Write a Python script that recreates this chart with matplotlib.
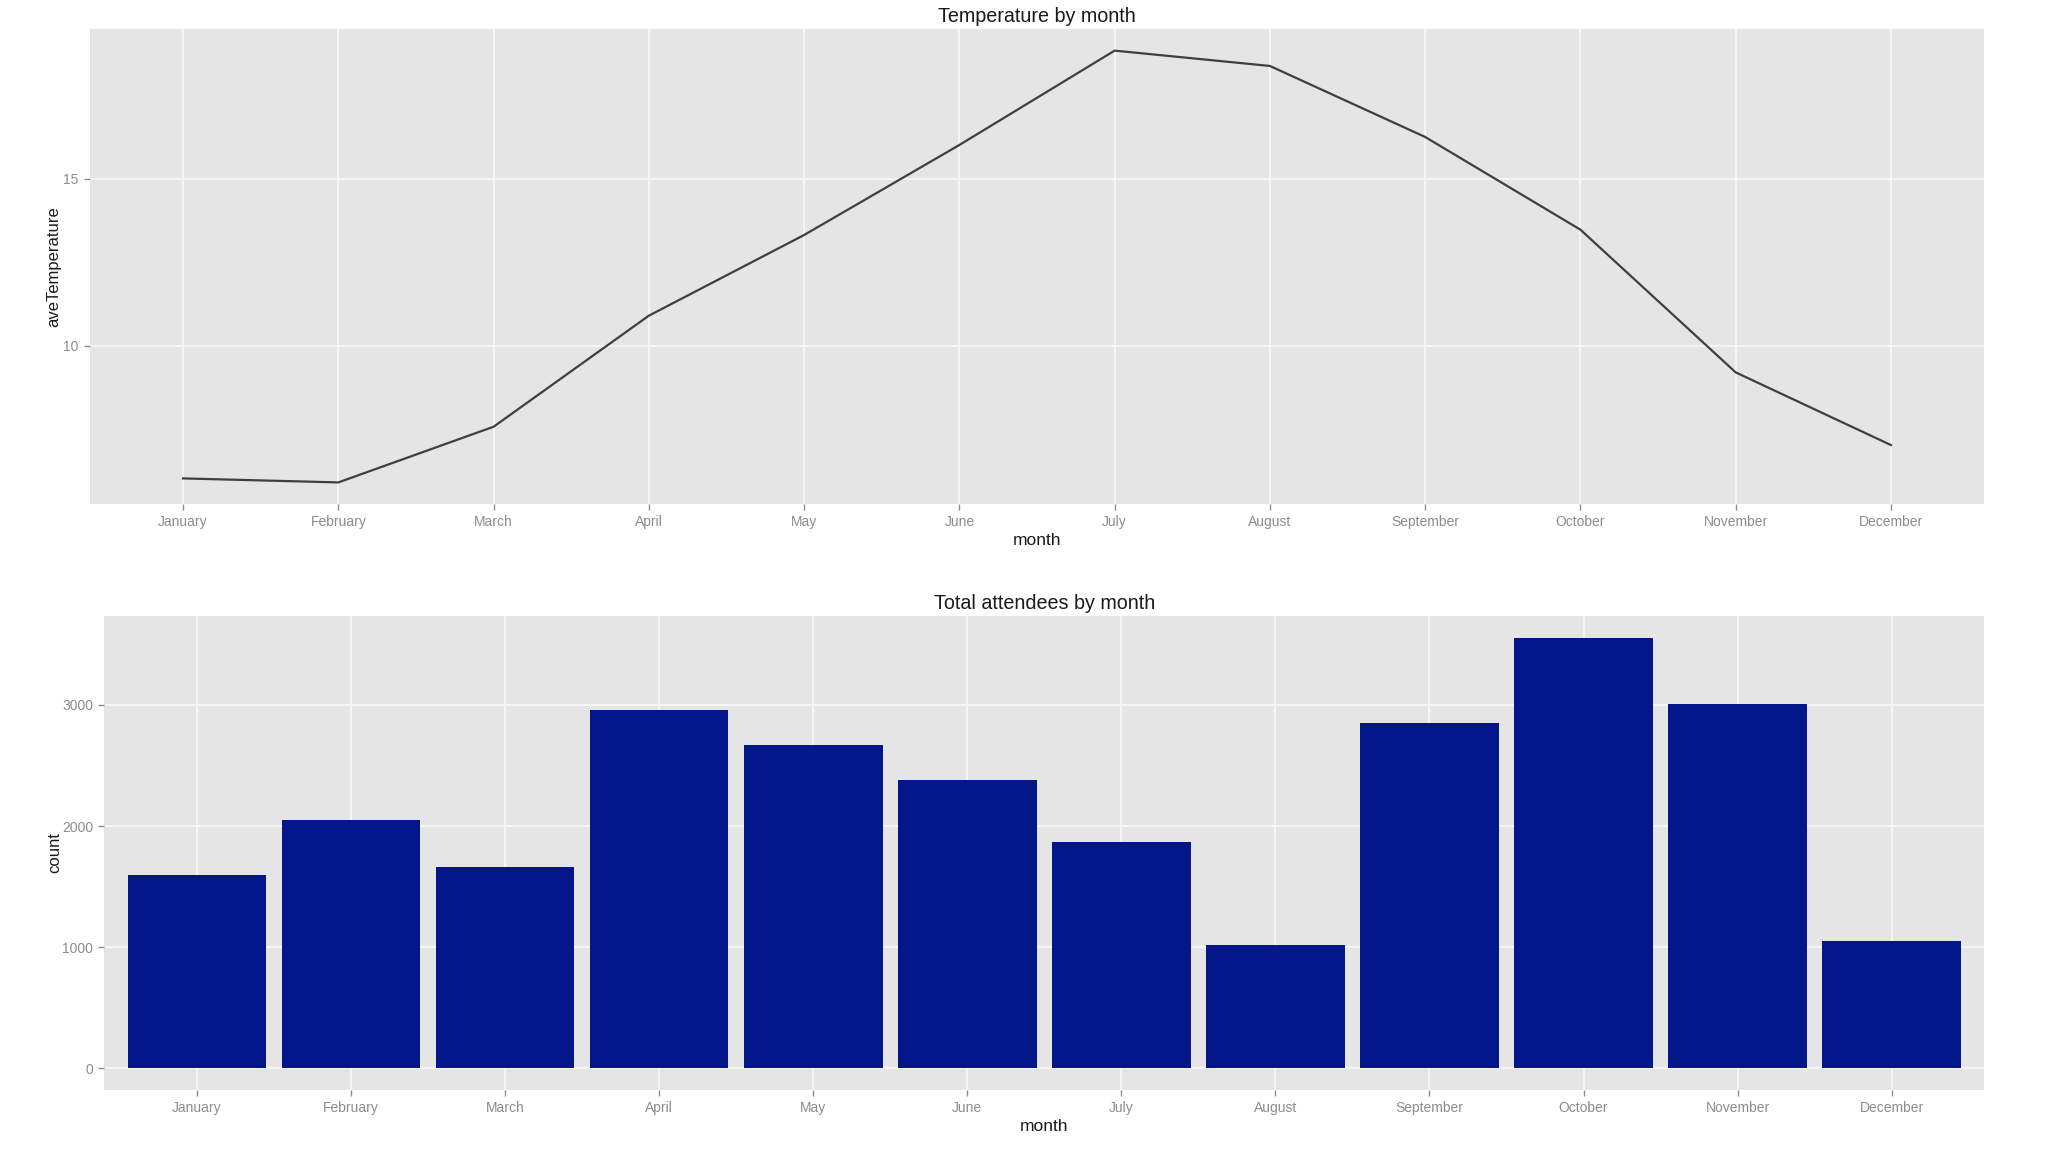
import numpy as np
import matplotlib
matplotlib.use("Agg")
import matplotlib.pyplot as plt

plt.rcParams['font.family'] = ['Liberation Sans', 'DejaVu Sans']

# data
months = ["January", "February", "March", "April", "May", "June",
          "July", "August", "September", "October", "November", "December"]
ave_temperature = [6.02, 5.90, 7.57, 10.90, 13.32, 16.02,
                   18.85, 18.39, 16.26, 13.48, 9.20, 7.02]
attendees = [1593, 2050, 1665, 2957, 2670, 2376,
             1867, 1019, 2850, 3555, 3009, 1052]

temp_ticks = [10, 15]
count_ticks = [0, 1000, 2000, 3000]

panel_bg = "#E5E5E5"
tick_grey = "#8C8C8C"
bar_blue = "#03178A"


def ggplot_axes(ax):
    # grey panel, white major grid, no frame
    ax.set_facecolor(panel_bg)
    for s in ax.spines.values():
        s.set_visible(False)
    ax.grid(True, color="#F7F7F7", linewidth=1.3)
    ax.set_axisbelow(True)
    ax.tick_params(colors=tick_grey, labelcolor=tick_grey, length=4,
                   width=1.0, labelsize=10, pad=4)


fig = plt.figure(figsize=(20.48, 11.52), dpi=100)

x = np.arange(len(months))

# Temperature by month
ax1 = fig.add_axes([0.0439, 0.5625, 0.9249, 0.4123])
ggplot_axes(ax1)
ax1.plot(x, ave_temperature, color="#3F3F3F", linewidth=1.6)
ax1.set_xlim(-0.6, len(months) - 0.4)
lo, hi = min(ave_temperature), max(ave_temperature)
rng = hi - lo
ax1.set_ylim(lo - 0.05 * rng, hi + 0.05 * rng)
ax1.set_xticks(x)
ax1.set_xticklabels(months)
ax1.set_yticks(temp_ticks)
ax1.set_title("Temperature by month", fontsize=14.2, color="#1A1A1A", pad=5)
ax1.set_xlabel("month", fontsize=12.5, color="#1A1A1A", labelpad=3)
ax1.set_ylabel("aveTemperature", fontsize=12, color="#1A1A1A", labelpad=1.5)

# Total attendees by month
ax2 = fig.add_axes([0.0510, 0.0538, 0.9178, 0.4115])
ggplot_axes(ax2)
ax2.bar(x, attendees, width=0.9, color=bar_blue)
ax2.set_xlim(-0.6, len(months) - 0.4)
top = max(attendees)
ax2.set_ylim(-0.05 * top, top * 1.05)
ax2.set_xticks(x)
ax2.set_xticklabels(months)
ax2.set_yticks(count_ticks)
ax2.set_title("Total attendees by month", fontsize=14.2, color="#1A1A1A", pad=5)
ax2.set_xlabel("month", fontsize=12.5, color="#1A1A1A", labelpad=3)
ax2.set_ylabel("count", fontsize=12, color="#1A1A1A", labelpad=0)

fig.savefig("out.png", dpi=100, facecolor="white")
